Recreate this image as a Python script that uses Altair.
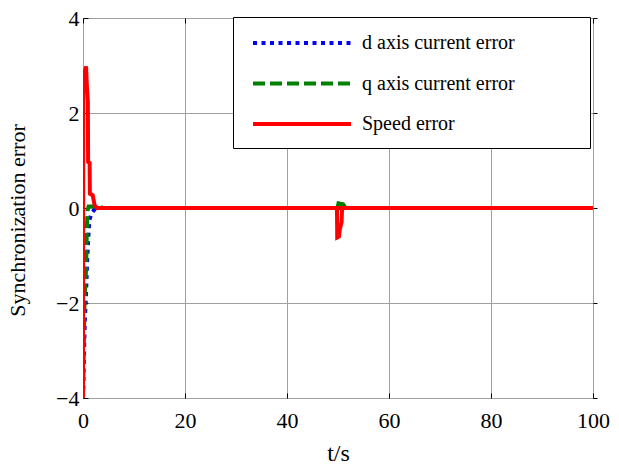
import altair as alt
import pandas as pd

series_names = ["d axis current error", "q axis current error", "Speed error"]
series_colors = ["#0000ff", "#008000", "#ff0000"]
series_dash = [[4, 4.5], [12, 5], [1, 0]]
series_width = [4, 4, 5]

# d axis current error
t_d = [0.0, 0.35, 0.6, 0.8, 1.05, 1.25, 1.75, 2.5, 100.0]
v_d = [-4.0, -2.4, -1.8, -1.15, -0.6, -0.25, -0.1, 0.0, 0.0]

# q axis current error
t_q = [0.0, 0.3, 0.6, 0.75, 0.9, 1.1, 3.0, 4.0, 49.9, 50.1, 51.0, 51.5, 100.0]
v_q = [-4.0, -1.9, -1.3, -0.45, -0.05, 0.03, 0.03, 0.0, 0.0, 0.1, 0.08, 0.0, 0.0]

# Speed error
t_s = [0.0, 0.05, 0.6, 0.75, 0.95, 1.0, 1.3, 1.35, 1.9, 2.3, 2.8,
       49.8, 49.85, 50.2, 50.35, 50.7, 50.8, 100.0]
v_s = [-4.0, 2.75, 2.98, 2.6, 2.25, 0.97, 0.95, 0.3, 0.27, 0.05, 0.0,
       0.0, -0.62, -0.6, -0.45, -0.3, 0.0, 0.0]

x_ticks = [0, 20, 40, 60, 80, 100]
y_ticks = [-4, -2, 0, 2, 4]

rows = []
for name, ts, vs in zip(series_names, [t_d, t_q, t_s], [v_d, v_q, v_s]):
    for i, (t, v) in enumerate(zip(ts, vs)):
        rows.append({"t": t, "v": v, "series": name, "idx": i})
df = pd.DataFrame(rows)

FONT = "Liberation Serif, Times New Roman, serif"
xscale = alt.Scale(domain=[0, 100], nice=False, zero=False)
yscale = alt.Scale(domain=[-4, 4], nice=False, zero=False)

leg = dict(
    title=".", titleOrient="right", titlePadding=56, titleOpacity=0,
    titleFontSize=20, titleFont=FONT,
    orient="none", legendX=150, legendY=-1,
    symbolType="M-0.6,0H9.2", symbolSize=400, symbolStrokeWidth=4,
    labelFont=FONT, labelFontSize=20, labelOffset=91, labelLimit=800,
    labelColor="black",
    rowPadding=18.5, padding=14, strokeColor="black", fillColor="white",
)

lines = alt.Chart(df).mark_line(clip=True).encode(
    x=alt.X("t:Q", scale=xscale, title="t/s",
            axis=alt.Axis(orient="bottom", values=x_ticks, grid=True, gridColor="#a0a0a0",
                          domain=False, ticks=False, labelFont=FONT, labelFontSize=22,
                          labelPadding=12, labelColor="black", labelFlush=False,
                          labelOverlap=False, titleFont=FONT,
                          titleFontSize=24, titleFontWeight="normal", titlePadding=10,
                          titleColor="black")),
    y=alt.Y("v:Q", scale=yscale, title="Synchronization error",
            axis=alt.Axis(orient="left", values=y_ticks, grid=True, gridColor="#a0a0a0",
                          domain=False, ticks=False, labelFont=FONT, labelFontSize=22,
                          labelPadding=4, labelColor="black", labelFlush=False,
                          labelOverlap=False, titleFont=FONT,
                          titleFontSize=22, titleFontWeight="normal", titlePadding=26,
                          titleColor="black", titleY=202)),
    color=alt.Color("series:N", scale=alt.Scale(domain=series_names, range=series_colors),
                    legend=alt.Legend(**leg)),
    strokeDash=alt.StrokeDash("series:N", scale=alt.Scale(domain=series_names, range=series_dash),
                              legend=alt.Legend(**leg)),
    strokeWidth=alt.StrokeWidth("series:N", scale=alt.Scale(domain=series_names, range=series_width),
                                legend=None),
    order="idx:Q",
)

tick_axis = dict(labels=False, domain=False, grid=False, tickColor="black", title=None)

ticks_bl = alt.Chart(df).mark_point(opacity=0).encode(
    x=alt.X("t:Q", scale=xscale,
            axis=alt.Axis(orient="bottom", values=x_ticks, offset=-5, tickSize=5, **tick_axis)),
    y=alt.Y("v:Q", scale=yscale,
            axis=alt.Axis(orient="left", values=y_ticks, offset=-5, tickSize=5, **tick_axis)),
)

ticks_tr = alt.Chart(df).mark_point(opacity=0).encode(
    x=alt.X("t:Q", scale=xscale,
            axis=alt.Axis(orient="top", values=x_ticks, offset=-5, tickSize=5, **tick_axis)),
    y=alt.Y("v:Q", scale=yscale,
            axis=alt.Axis(orient="right", values=y_ticks, offset=0, tickSize=4, **tick_axis)),
)

chart = alt.layer(lines, ticks_bl, ticks_tr).resolve_axis(
    x="independent", y="independent"
).properties(
    width=510, height=380,
    autosize=alt.AutoSizeParams(type="none"),
    padding={"left": 83, "top": 18, "right": 26, "bottom": 74},
    background="white",
).configure_view(stroke="black", strokeWidth=1.2).configure(font=FONT)

chart.save("out.html", embed_options={"renderer": "svg", "actions": False})
